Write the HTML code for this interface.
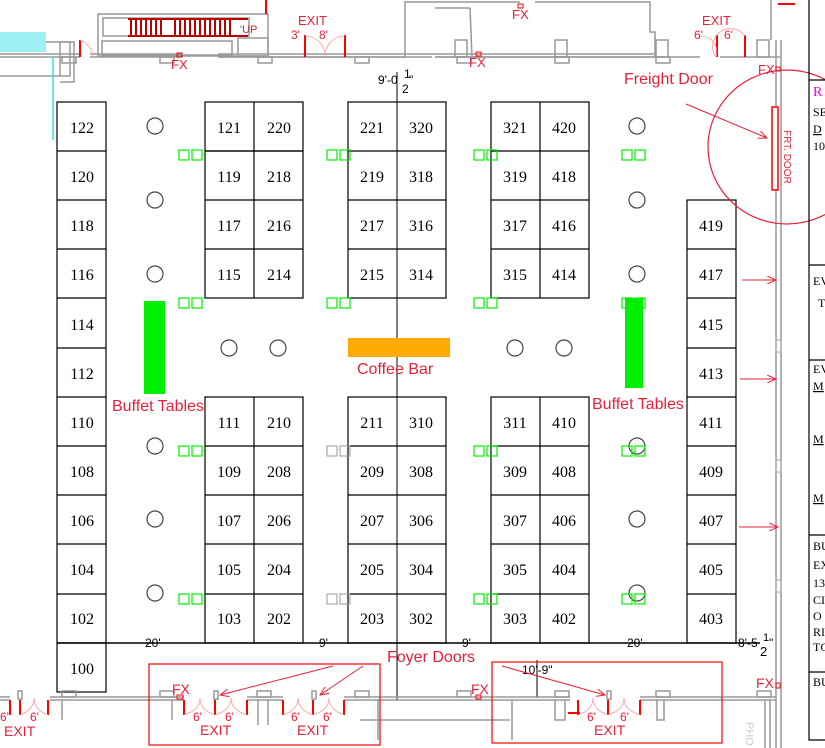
<!DOCTYPE html>
<html><head><meta charset="utf-8"><style>
html,body{margin:0;padding:0;background:#fff;}
svg{display:block;}
.n{font-family:"Liberation Serif",serif;font-size:16px;fill:#000;text-anchor:middle;}
.r{font-family:"Liberation Sans",sans-serif;fill:#e8203a;}
.d{font-family:"Liberation Sans",sans-serif;font-size:12px;fill:#000;}
.p{font-family:"Liberation Serif",serif;font-size:12px;fill:#000;}
</style></head><body>
<svg width="825" height="748" viewBox="0 0 825 748" xmlns="http://www.w3.org/2000/svg">
<defs><marker id="a" markerWidth="10" markerHeight="8" refX="9" refY="4" orient="auto"><path d="M0,0 L9,4 L0,8" fill="none" stroke="#e8203a" stroke-width="1"/></marker></defs>
<!-- top walls -->
<g stroke="#999" stroke-width="1.5" fill="none">
<path d="M0,76 H70 V42 H0"/><path d="M60,76 V42 H74 V82 H60"/>
<rect x="98" y="14" width="170" height="42"/><rect x="103" y="18" width="146" height="18"/>
<rect x="102" y="41" width="130" height="14"/><rect x="238" y="38" width="30" height="18"/>
<path d="M0,57 H80 M90,57 H182 M218,57 H405 V2 H520 M535,2 H650 V32 H655 V57 H435 M471,57 H480 M0,54 H80 M90,54 H182 M218,54 H432 M471,54 H480 M655,54 H432"/>
<path d="M220,57 H432 M473,57 H483 M435,8 H470 M470,8 L472,57"/>
<path d="M435,57 H700 M720,57 H780"/>
<rect x="455" y="40" width="12" height="17"/><rect x="555" y="40" width="12" height="17"/><rect x="656" y="40" width="12" height="17"/><rect x="757" y="40" width="12" height="17"/>
<rect x="62" y="57" width="14" height="6"/><rect x="160" y="57" width="14" height="6"/><rect x="258" y="57" width="14" height="6"/><rect x="355" y="57" width="14" height="6"/><rect x="457" y="57" width="14" height="6"/><rect x="555" y="57" width="14" height="6"/><rect x="656" y="57" width="14" height="6"/>
<path d="M776,40 V748 M781,40 V748 M771,0 V40"/>
</g>
<rect x="0" y="32" width="46" height="20" fill="#9ff0f5"/>
<line x1="53" y1="57" x2="53" y2="140" stroke="#3dd" stroke-width="1.5"/>
<g stroke="#b00" stroke-width="2"><path d="M128,19 H248 M128,36 H248"/><path d="M131,19 V36 M136,19V36 M141,19V36 M146,19V36 M151,19V36 M156,19V36 M161,19V36 M175,19V36 M180,19V36 M185,19V36 M190,19V36 M195,19V36 M200,19V36 M205,19V36 M210,19V36 M215,19V36 M220,19V36 M225,19V36 M230,19V36"/></g>
<text x="240" y="33" font-family="Liberation Sans" font-size="11" fill="#a33">'UP</text>
<g stroke="red" stroke-width="2"><path d="M80,40 V57 M266,0 V14 M305,35 V57 M345,35 V57 M717,35 V57 M745,35 V57 M778,4 H795"/></g>
<g stroke="#f99" fill="none" stroke-width="0.8"><path d="M80,40 Q92,45 93,57 M305,36 A20 20 0 0 1 325,57 M325,57 A20 20 0 0 1 345,36 M700,36 A16 16 0 0 1 716,57 M716,57 A16 16 0 0 1 745,36"/></g>
<text x="298" y="25" class="r" font-size="13">EXIT</text><text x="291" y="39" class="r" font-size="12">3'</text><text x="319" y="39" class="r" font-size="12">8'</text>
<text x="702" y="25" class="r" font-size="13">EXIT</text><text x="694" y="39" class="r" font-size="12">6'</text><text x="724" y="39" class="r" font-size="12">6'</text>
<text x="171" y="69" class="r" font-size="13">FX</text><text x="469" y="67" class="r" font-size="13">FX</text><text x="512" y="19" class="r" font-size="13">FX</text><text x="758" y="74" class="r" font-size="13">FX</text>
<g fill="none" stroke="red" stroke-width="1"><rect x="177" y="53" width="5" height="4"/><rect x="476" y="52" width="5" height="4"/><rect x="518" y="4" width="5" height="4"/><rect x="776" y="67" width="4" height="4"/></g>
<text x="378" y="84" class="d">9'-0</text><text x="404" y="78" class="d" font-size="11">1</text><text x="402" y="93" class="d" font-size="13">2</text><text x="409" y="84" class="d">"</text>
<line x1="397" y1="72" x2="397" y2="700" stroke="#000" stroke-width="1"/>
<!-- booths -->
<g stroke="#000" stroke-width="1.2" fill="#fff">
<rect x="57" y="102" width="49" height="590"/>
<path d="M57,151H106M57,200H106M57,249H106M57,298H106M57,348H106M57,397H106M57,446H106M57,495H106M57,544H106M57,594H106M57,643H106"/>
<rect x="205" y="102" width="98" height="196"/><path d="M254,102V298M205,151H303M205,200H303M205,249H303"/>
<rect x="348" y="102" width="98" height="196"/><path d="M205,151H303M348,151H446M348,200H446M348,249H446"/>
<rect x="491" y="102" width="98" height="196"/><path d="M540,102V298M491,151H589M491,200H589M491,249H589"/>
<rect x="205" y="397" width="98" height="246"/><path d="M254,397V643M205,446H303M205,495H303M205,544H303M205,594H303"/>
<rect x="348" y="397" width="98" height="246"/><path d="M348,446H446M348,495H446M348,544H446M348,594H446"/>
<rect x="491" y="397" width="98" height="246"/><path d="M540,397V643M491,446H589M491,495H589M491,544H589M491,594H589"/>
<rect x="687" y="200" width="49" height="443"/><path d="M687,249H736M687,298H736M687,348H736M687,397H736M687,446H736M687,495H736M687,544H736M687,594H736"/>
</g>
<line x1="397" y1="102" x2="397" y2="643" stroke="#000"/>
<line x1="57" y1="643" x2="760" y2="643" stroke="#000" stroke-width="1.5"/>
<g class="n">
<text x="82" y="133">122</text><text x="82" y="182">120</text><text x="82" y="231">118</text><text x="82" y="280">116</text><text x="82" y="330">114</text><text x="82" y="379">112</text><text x="82" y="428">110</text><text x="82" y="477">108</text><text x="82" y="526">106</text><text x="82" y="575">104</text><text x="82" y="624">102</text><text x="82" y="674">100</text>
<text x="229" y="133">121</text><text x="279" y="133">220</text><text x="229" y="182">119</text><text x="279" y="182">218</text><text x="229" y="231">117</text><text x="279" y="231">216</text><text x="229" y="280">115</text><text x="279" y="280">214</text>
<text x="372" y="133">221</text><text x="421" y="133">320</text><text x="372" y="182">219</text><text x="421" y="182">318</text><text x="372" y="231">217</text><text x="421" y="231">316</text><text x="372" y="280">215</text><text x="421" y="280">314</text>
<text x="515" y="133">321</text><text x="564" y="133">420</text><text x="515" y="182">319</text><text x="564" y="182">418</text><text x="515" y="231">317</text><text x="564" y="231">416</text><text x="515" y="280">315</text><text x="564" y="280">414</text>
<text x="229" y="428">111</text><text x="279" y="428">210</text><text x="229" y="477">109</text><text x="279" y="477">208</text><text x="229" y="526">107</text><text x="279" y="526">206</text><text x="229" y="575">105</text><text x="279" y="575">204</text><text x="229" y="624">103</text><text x="279" y="624">202</text>
<text x="372" y="428">211</text><text x="421" y="428">310</text><text x="372" y="477">209</text><text x="421" y="477">308</text><text x="372" y="526">207</text><text x="421" y="526">306</text><text x="372" y="575">205</text><text x="421" y="575">304</text><text x="372" y="624">203</text><text x="421" y="624">302</text>
<text x="515" y="428">311</text><text x="564" y="428">410</text><text x="515" y="477">309</text><text x="564" y="477">408</text><text x="515" y="526">307</text><text x="564" y="526">406</text><text x="515" y="575">305</text><text x="564" y="575">404</text><text x="515" y="624">303</text><text x="564" y="624">402</text>
<text x="711" y="231">419</text><text x="711" y="280">417</text><text x="711" y="330">415</text><text x="711" y="379">413</text><text x="711" y="428">411</text><text x="711" y="477">409</text><text x="711" y="526">407</text><text x="711" y="575">405</text><text x="711" y="624">403</text>
</g>
<!-- circles -->
<g fill="none" stroke="#444" stroke-width="1.2">
<circle cx="155" cy="126" r="8"/><circle cx="155" cy="200" r="8"/><circle cx="155" cy="274" r="8"/>
<circle cx="229" cy="348" r="8"/><circle cx="278" cy="348" r="8"/><circle cx="515" cy="348" r="8"/><circle cx="564" cy="348" r="8"/>
<circle cx="637" cy="126" r="8"/><circle cx="637" cy="200" r="8"/><circle cx="637" cy="274" r="8"/>
<circle cx="155" cy="446" r="8"/><circle cx="155" cy="519" r="8"/><circle cx="155" cy="593" r="8"/>
<circle cx="637" cy="446" r="8"/><circle cx="637" cy="519" r="8"/><circle cx="637" cy="593" r="8"/>
</g>
<!-- green squares -->
<g fill="none" stroke="#0e0" stroke-width="1.2">
<rect x="179" y="150" width="10" height="10"/><rect x="192" y="150" width="10" height="10"/><rect x="327" y="150" width="10" height="10"/><rect x="340" y="150" width="10" height="10"/><rect x="474" y="150" width="10" height="10"/><rect x="487" y="150" width="10" height="10"/><rect x="622" y="150" width="10" height="10"/><rect x="635" y="150" width="10" height="10"/>
<rect x="179" y="298" width="10" height="10"/><rect x="192" y="298" width="10" height="10"/><rect x="327" y="298" width="10" height="10"/><rect x="340" y="298" width="10" height="10"/><rect x="474" y="298" width="10" height="10"/><rect x="487" y="298" width="10" height="10"/><rect x="622" y="298" width="10" height="10"/><rect x="635" y="298" width="10" height="10"/>
<rect x="179" y="446" width="10" height="10"/><rect x="192" y="446" width="10" height="10"/><rect x="474" y="446" width="10" height="10"/><rect x="487" y="446" width="10" height="10"/><rect x="622" y="446" width="10" height="10"/><rect x="635" y="446" width="10" height="10"/>
<rect x="179" y="594" width="10" height="10"/><rect x="192" y="594" width="10" height="10"/><rect x="474" y="594" width="10" height="10"/><rect x="487" y="594" width="10" height="10"/><rect x="622" y="594" width="10" height="10"/><rect x="635" y="594" width="10" height="10"/>
</g>
<g fill="none" stroke="#999"><rect x="327" y="446" width="10" height="10"/><rect x="340" y="446" width="10" height="10"/><rect x="327" y="594" width="10" height="10"/><rect x="340" y="594" width="10" height="10"/></g>
<rect x="144" y="301" width="21" height="93" fill="#00ee00"/>
<rect x="625" y="298" width="18" height="90" fill="#00ee00"/>
<rect x="348" y="338" width="102" height="19" fill="#ffaa00"/>
<text x="357" y="374" class="r" font-size="16">Coffee Bar</text>
<text x="112" y="411" class="r" font-size="16">Buffet Tables</text>
<text x="592" y="409" class="r" font-size="16">Buffet Tables</text>
<text x="624" y="84" class="r" font-size="16">Freight Door</text>
<line x1="686" y1="104" x2="767" y2="138" stroke="#e8203a" marker-end="url(#a)"/>
<ellipse cx="787" cy="147" rx="79" ry="77" fill="none" stroke="#e8203a" stroke-width="1.2"/>
<rect x="772" y="107" width="6" height="83" fill="#fff" stroke="red" stroke-width="1.5"/>
<text x="0" y="0" class="r" font-size="10" transform="translate(784,130) rotate(90)">FRT. DOOR</text>
<g stroke="#e8203a"><line x1="742" y1="280" x2="776" y2="280" marker-end="url(#a)"/><line x1="740" y1="379" x2="776" y2="379" marker-end="url(#a)"/><line x1="739" y1="527" x2="778" y2="527" marker-end="url(#a)"/></g>
<!-- dimension labels -->
<g class="d"><text x="145" y="647">20'</text><text x="319" y="647">9'</text><text x="462" y="647">9'</text><text x="627" y="647">20'</text><text x="738" y="647">8'-5</text><text x="763" y="641" font-size="11">1</text><text x="760" y="656" font-size="13">2</text><text x="769" y="647">"</text><text x="522" y="674">10'-9"</text></g>
<line x1="537" y1="660" x2="537" y2="698" stroke="#000"/>
<!-- right panel -->
<g stroke="#000" fill="none" stroke-width="1.2"><path d="M809,0 V740 H825 M809,80 H825 M809,265 H825 M809,360 H825 M809,535 H825 M809,672 H825"/></g>
<g class="p"><text x="813" y="96" fill="#e0e" font-size="14">R</text><text x="813" y="116">SE</text><text x="813" y="133" text-decoration="underline">D</text><text x="813" y="150">10</text><text x="813" y="285">EV</text><text x="818" y="307">T</text><text x="813" y="373">EV</text><text x="813" y="390" text-decoration="underline">M</text><text x="813" y="443" text-decoration="underline">M</text><text x="813" y="502" text-decoration="underline">M</text><text x="813" y="550">BU</text><text x="813" y="569">EX</text><text x="813" y="587">13</text><text x="813" y="604">CI</text><text x="813" y="620">O</text><text x="813" y="636">RI</text><text x="813" y="651">TC</text><text x="813" y="686">BU</text></g>
<g fill="none" stroke="#aaa"><rect x="776" y="340" width="5" height="12"/><rect x="776" y="460" width="5" height="12"/><rect x="776" y="580" width="5" height="12"/></g>
<!-- bottom walls -->
<g stroke="#999" stroke-width="1.5" fill="none">
<path d="M0,697 H10 M50,697 H184 M247,697 H283 M344,697 H570 M640,697 H776 M0,700 H10 M50,700 H184 M247,700 H283 M344,700 H570 M640,700 H776"/>
<path d="M62,700 V720 M172,700 V720 M258,700 V725 M268,700 V725 M360,720 H510 M378,700 V740 M512,700 V740 M555,700 V720 H565 V700 M657,700 V720 H664 V700 M765,700 V748 M770,700 V748"/>
<rect x="62" y="691" width="14" height="6"/><rect x="160" y="691" width="14" height="6"/><rect x="257" y="691" width="14" height="6"/><rect x="355" y="691" width="14" height="6"/><rect x="457" y="691" width="14" height="6"/><rect x="555" y="691" width="14" height="6"/><rect x="656" y="691" width="14" height="6"/><rect x="757" y="691" width="14" height="6"/>
<rect x="214" y="691" width="4" height="8"/><rect x="312" y="691" width="4" height="8"/><rect x="607" y="691" width="4" height="8"/><rect x="18" y="691" width="4" height="8"/>
</g>
<g stroke="red" stroke-width="2"><path d="M184,700V715 M215,700V715 M247,700V715 M283,700V715 M313,700V715 M344,700V715 M578,700V715 M608,700V715 M640,700V715 M10,700V715 M20,700V715 M48,700V715 M568,713 H580"/></g>
<g stroke="#f99" fill="none" stroke-width="0.8"><path d="M184,715 Q200,710 200,698 Q200,710 215,715 M215,715 Q231,710 231,698 Q231,710 247,715 M283,715 Q298,710 298,698 Q298,710 313,715 M313,715 Q329,710 329,698 Q329,710 344,715 M578,715 Q593,710 593,698 Q593,710 608,715 M608,715 Q624,710 624,698 Q624,710 640,715 M20,715 Q34,710 34,698 Q34,710 48,715"/></g>
<g class="r" font-size="12"><text x="0" y="721">6'</text><text x="30" y="721">6'</text><text x="193" y="721">6'</text><text x="225" y="721">6'</text><text x="291" y="721">6'</text><text x="323" y="721">6'</text><text x="587" y="721">6'</text><text x="620" y="721">6'</text></g>
<g class="r" font-size="14"><text x="4" y="736">EXIT</text><text x="200" y="735">EXIT</text><text x="297" y="735">EXIT</text><text x="594" y="735">EXIT</text><text x="172" y="694">FX</text><text x="471" y="694">FX</text><text x="756" y="688">FX</text></g>
<g fill="none" stroke="red"><rect x="177" y="695" width="6" height="4"/><rect x="476" y="695" width="5" height="4"/><rect x="776" y="683" width="4" height="5"/></g>
<rect x="149" y="664" width="231" height="81" fill="none" stroke="red" stroke-width="1.2"/>
<rect x="492" y="662" width="230" height="81" fill="none" stroke="red" stroke-width="1.2"/>
<text x="387" y="662" class="r" font-size="16">Foyer Doors</text>
<g stroke="#e8203a"><line x1="333" y1="666" x2="220" y2="695" marker-end="url(#a)"/><line x1="363" y1="666" x2="320" y2="695" marker-end="url(#a)"/><line x1="502" y1="666" x2="605" y2="695" marker-end="url(#a)"/></g>
<text x="0" y="0" font-family="Liberation Sans" font-size="11" fill="#ccc" transform="translate(746,722) rotate(90)">PHO</text>
</svg>
</body></html>
